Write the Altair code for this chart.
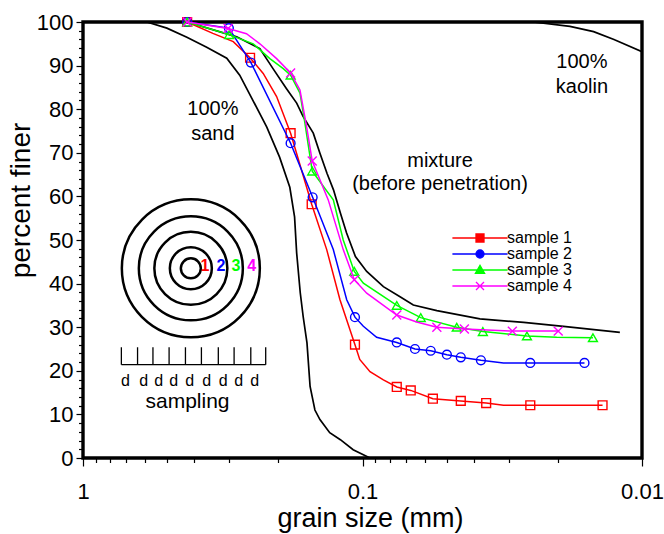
import altair as alt
import pandas as pd

FONT = "Liberation Sans"

# ---------------- reference curves (black) ----------------
sand_size = [0.591, 0.501, 0.425, 0.361, 0.306, 0.275, 0.247, 0.220, 0.198, 0.182, 0.175,
             0.172, 0.167, 0.163, 0.158, 0.154, 0.148, 0.142, 0.131, 0.120, 0.108, 0.094]
sand_pct = [100, 98.6, 96.5, 94.2, 91.7, 87.8, 82.1, 75.9, 69.0, 62.1, 55.3,
            47.0, 37.9, 32.4, 26.4, 16.4, 11.0, 8.8, 5.8, 4.2, 1.9, 0]

mix_size = [0.424, 0.282, 0.233, 0.209, 0.187, 0.172, 0.163, 0.150, 0.142, 0.134, 0.127, 0.120,
            0.114, 0.106, 0.0966, 0.0842, 0.0734, 0.0658, 0.0542, 0.0380, 0.0265, 0.0191, 0.0120]
mix_pct = [100, 96.6, 93.9, 89.3, 84.7, 81.4, 78.3, 74.5, 69.9, 65.3, 61.5, 56.2,
           51.6, 46.2, 42.8, 39.3, 37.0, 35.1, 33.8, 31.9, 31.1, 30.2, 28.8]

kaolin_size = [0.0245, 0.0181, 0.0149, 0.0126, 0.0100]
kaolin_pct = [100, 99.0, 97.8, 96.0, 93.2]

# ---------------- samples ----------------
series_names = ["sample 1", "sample 2", "sample 3", "sample 4"]
series_colors = ["#ff0000", "#0000ff", "#00ff00", "#ff00ff"]

s1_size = [0.424, 0.343, 0.290, 0.2525, 0.2266, 0.2029, 0.1808, 0.152, 0.1343, 0.1204, 0.1064,
           0.1023, 0.0940, 0.0842, 0.0754, 0.0672, 0.0560, 0.0445, 0.0361, 0.0313, 0.0251, 0.01384]
s1_pct = [100, 97.4, 95.5, 91.8, 88.2, 82.9, 74.5, 58.2, 47.8, 36.3, 26.0,
          22.6, 19.8, 17.9, 16.3, 15.5, 13.6, 13.1, 12.6, 12.1, 12.1, 12.1]
s1_mark = [1, 0, 0, 1, 0, 0, 1, 1, 0, 0, 1, 0, 0, 0, 1, 1, 1, 1, 1, 0, 1, 1]

s2_size = [0.424, 0.3007, 0.2507, 0.1808, 0.1508, 0.1272, 0.1139, 0.1064, 0.0993, 0.0890,
           0.0754, 0.0649, 0.0570, 0.0499, 0.0445, 0.0377, 0.0313, 0.0251, 0.01606]
s2_pct = [100, 98.6, 90.7, 72.2, 59.8, 47.8, 36.3, 32.3, 30.2, 27.7,
          26.5, 25.0, 24.6, 23.7, 23.1, 22.4, 21.8, 21.8, 21.8]
s2_mark = [1, 1, 1, 1, 1, 0, 0, 1, 0, 0, 1, 1, 1, 1, 1, 1, 0, 1, 1]

s3_size = [0.424, 0.2999, 0.2461, 0.2145, 0.1921, 0.1808, 0.1674, 0.1607, 0.1513, 0.1272,
           0.1172, 0.1070, 0.0993, 0.0754, 0.0619, 0.0460, 0.0371, 0.0258, 0.0202, 0.01498]
s3_pct = [100, 97.1, 95.0, 91.6, 89.3, 87.8, 83.7, 76.8, 65.8, 59.2,
          50.0, 42.8, 40.1, 35.0, 32.2, 30.0, 29.0, 28.0, 27.7, 27.6]
s3_mark = [1, 1, 0, 0, 0, 1, 0, 0, 1, 0, 0, 1, 0, 1, 1, 1, 1, 1, 0, 1]

s4_size = [0.424, 0.3025, 0.2601, 0.2329, 0.2029, 0.1808, 0.1674, 0.1585, 0.1513, 0.1326,
           0.1172, 0.1070, 0.0966, 0.0754, 0.0640, 0.0542, 0.0432, 0.0291, 0.01994]
s4_pct = [100, 98.5, 97.3, 95.0, 91.6, 88.3, 84.4, 76.0, 68.1, 59.2,
          47.8, 40.9, 37.8, 32.8, 31.2, 30.0, 29.6, 29.1, 29.1]
s4_mark = [1, 1, 0, 0, 0, 1, 0, 0, 1, 0, 0, 1, 0, 1, 0, 1, 1, 1, 1]

# ---------------- annotations ----------------
note_text = ["100%", "sand", "mixture", "(before penetration)", "100%", "kaolin"]
note_size = [0.343, 0.343, 0.0528, 0.0528, 0.0164, 0.0164]
note_pct = [78.6, 73.0, 66.8, 61.5, 89.5, 83.7]

# inset: concentric sampling rings and sampling ruler
ring_center_size = [0.4113]
ring_center_pct = [43.5]
ring_label = ["1", "2", "3", "4"]
ring_label_size = [0.3665, 0.3212, 0.2838, 0.2493]
ring_label_pct = [42.8, 42.8, 42.8, 42.8]

ruler_tick_size = [0.729, 0.638, 0.562, 0.492, 0.430, 0.377, 0.328, 0.288, 0.251, 0.222]
ruler_base_pct = 21.4
ruler_top_pct = 25.4
ruler_d_size = [0.705, 0.606, 0.536, 0.474, 0.415, 0.361, 0.315, 0.277, 0.243]
ruler_d_pct = 16.4
sampling_size = [0.4228]
sampling_pct = [11.5]

# plot frame: corners of the axis box, walked round
frame_size = [1.0, 0.01, 0.01, 1.0, 1.0]
frame_pct = [0.0, 0.0, 100.0, 100.0, 0.0]

# ---------------- styling ----------------
W, H = 559, 436
RING_RADII_PX = [10, 21, 36.5, 52, 69]
MARK_SHAPES = ["square", "circle", "triangle-up", "M-1,-1L1,1M-1,1L1,-1"]
MARK_SIZES = [78, 78, 80, 80]
LEGEND_PATHS = [
    "M-6.9,0H6.9M-1,-1H1V1H-1Z",
    "M-6.9,0H6.9M1,0A1,1,0,1,1,-1,0A1,1,0,1,1,1,0",
    "M-6.9,0H6.9M0,-1.15L1.15,0.85H-1.15Z",
    "M-6.9,0H6.9M-1,-1L1,1M-1,1L1,-1",
]

# ---------------- tables ----------------
curves = []
for name, xs, ys in [("sand", sand_size, sand_pct), ("mixture", mix_size, mix_pct),
                     ("kaolin", kaolin_size, kaolin_pct)]:
    for i, (a, b) in enumerate(zip(xs, ys)):
        curves.append({"curve": name, "size": a, "pct": b, "idx": i})
curves_df = pd.DataFrame(curves)

rows = []
for name, xs, ys, ms in [("sample 1", s1_size, s1_pct, s1_mark), ("sample 2", s2_size, s2_pct, s2_mark),
                         ("sample 3", s3_size, s3_pct, s3_mark), ("sample 4", s4_size, s4_pct, s4_mark)]:
    for i, (a, b, m) in enumerate(zip(xs, ys, ms)):
        rows.append({"series": name, "size": a, "pct": b, "marked": m, "idx": i})
samples_df = pd.DataFrame(rows)

notes_df = pd.DataFrame({"text": note_text, "size": note_size, "pct": note_pct})
rings_df = pd.DataFrame({"size": ring_center_size, "pct": ring_center_pct})
ring_lab_df = pd.DataFrame({"text": ring_label, "size": ring_label_size, "pct": ring_label_pct,
                            "series": series_names})
ruler_base_df = pd.DataFrame({"size": [ruler_tick_size[0]], "size2": [ruler_tick_size[-1]],
                              "pct": [ruler_base_pct]})
ruler_ticks_df = pd.DataFrame({"size": ruler_tick_size, "pct": [ruler_base_pct] * len(ruler_tick_size),
                               "pct2": [ruler_top_pct] * len(ruler_tick_size)})
ruler_d_df = pd.DataFrame({"text": ["d"] * len(ruler_d_size), "size": ruler_d_size,
                           "pct": [ruler_d_pct] * len(ruler_d_size)})
sampling_df = pd.DataFrame({"text": ["sampling"], "size": sampling_size, "pct": sampling_pct})
frame_df = pd.DataFrame({"size": frame_size, "pct": frame_pct, "idx": list(range(len(frame_size)))})

# ---------------- scales / axes ----------------
xscale = alt.Scale(type="log", domain=[0.01, 1], reverse=True, nice=False)
yscale = alt.Scale(domain=[0, 100], nice=False)

x_ticks = [1, 0.9, 0.8, 0.7, 0.6, 0.5, 0.4, 0.3, 0.2,
           0.1, 0.09, 0.08, 0.07, 0.06, 0.05, 0.04, 0.03, 0.02, 0.01]
xaxis = alt.Axis(
    values=x_ticks,
    labelExpr="datum.value == 1 ? '1' : datum.value == 0.1 ? '0.1' : datum.value == 0.01 ? '0.01' : ''",
    tickSize={"condition": {"test": "datum.value == 1 || datum.value == 0.1 || datum.value == 0.01",
                            "value": 8}, "value": 4.5},
    tickColor="black", tickWidth=1.2, grid=False, domain=False,
    labelFont=FONT, labelFontSize=22, labelColor="black", labelPadding=15,
    labelFlush=False, labelOverlap=False, labelBound=False,
    title="grain size (mm)", titleFont=FONT, titleFontSize=27, titleFontWeight="normal",
    titleColor="black", titleX=287, titleY=68, titleBaseline="alphabetic", titleAlign="center",
)
yaxis = alt.Axis(
    values=list(range(0, 101, 2)),
    labelExpr="datum.value % 10 == 0 ? datum.label : ''",
    tickSize={"condition": {"test": "datum.value % 10 == 0", "value": 7}, "value": 4.5},
    tickColor="black", tickWidth=1.2, grid=False, domain=False,
    labelFont=FONT, labelFontSize=22, labelColor="black", labelPadding=3,
    labelFlush=False, labelOverlap=False,
    title="percent finer", titleFont=FONT, titleFontSize=28, titleFontWeight="normal",
    titleColor="black", titleX=-54, titleY=178, titleBaseline="alphabetic", titleAlign="center",
    titleAngle=270,
)


def X(field="size"):
    return alt.X(f"{field}:Q", scale=xscale, axis=xaxis)


def Y(field="pct"):
    return alt.Y(f"{field}:Q", scale=yscale, axis=yaxis)


color_scale = alt.Scale(domain=series_names, range=series_colors)

layers = []

# thick plot frame (closed polyline round the axis box)
layers.append(
    alt.Chart(frame_df).mark_line(color="#000000", strokeWidth=3.4, strokeJoin="miter",
                                  strokeCap="square").encode(x=X(), y=Y(), order="idx:Q")
)

# black reference curves
layers.append(
    alt.Chart(curves_df).mark_line(color="black", strokeWidth=1.7, clip=True).encode(
        x=X(), y=Y(), detail="curve:N", order="idx:Q")
)

# sample lines and markers
for name, col, shp, sz in zip(series_names, series_colors, MARK_SHAPES, MARK_SIZES):
    base = alt.Chart(samples_df).transform_filter(alt.datum.series == name)
    layers.append(base.mark_line(color=col, strokeWidth=1.5).encode(x=X(), y=Y(), order="idx:Q"))
    layers.append(
        base.transform_filter(alt.datum.marked == 1)
        .mark_point(shape=shp, size=sz, filled=False, color=col, strokeWidth=1.4, opacity=1)
        .encode(x=X(), y=Y())
    )

# legend only layer (no marks drawn)
leg = alt.Legend(
    title=None, orient="none", legendX=389, legendY=208, padding=0, rowPadding=-1,
    symbolSize=64, symbolStrokeWidth=1.3, symbolFillColor="transparent",
    labelFont=FONT, labelFontSize=16, labelColor="black", labelOffset=19,
)
layers.append(
    alt.Chart(samples_df).transform_filter("false")
    .mark_point(filled=False, strokeWidth=1.3, opacity=1)
    .encode(
        x=X(), y=Y(),
        color=alt.Color("series:N", scale=color_scale, legend=leg),
        shape=alt.Shape("series:N", scale=alt.Scale(domain=series_names, range=LEGEND_PATHS), legend=leg),
    )
)

# text annotations
layers.append(
    alt.Chart(notes_df).mark_text(font=FONT, fontSize=20, color="black", baseline="alphabetic",
                                  align="center").encode(x=X(), y=Y(), text="text:N")
)

# concentric rings
for r in RING_RADII_PX:
    layers.append(
        alt.Chart(rings_df).mark_point(shape="circle", size=(2 * r) ** 2, filled=False, color="black",
                                       strokeWidth=2.5, opacity=1).encode(x=X(), y=Y())
    )

layers.append(
    alt.Chart(ring_lab_df).mark_text(font=FONT, fontSize=16, fontWeight="bold", baseline="alphabetic",
                                     align="center").encode(
        x=X(), y=Y(), text="text:N", color=alt.Color("series:N", scale=color_scale, legend=None))
)

# sampling ruler
layers.append(
    alt.Chart(ruler_base_df).mark_rule(color="black", strokeWidth=1.3).encode(
        x=X(), x2="size2:Q", y=Y())
)
layers.append(
    alt.Chart(ruler_ticks_df).mark_rule(color="black", strokeWidth=1.3).encode(
        x=X(), y=Y(), y2="pct2:Q")
)
layers.append(
    alt.Chart(ruler_d_df).mark_text(font=FONT, fontSize=16, color="black", baseline="alphabetic",
                                    align="center").encode(x=X(), y=Y(), text="text:N")
)
layers.append(
    alt.Chart(sampling_df).mark_text(font=FONT, fontSize=21, color="black", baseline="alphabetic",
                                     align="center").encode(x=X(), y=Y(), text="text:N")
)

chart = (
    alt.layer(*layers)
    .properties(width=W, height=H, autosize=alt.AutoSizeParams(type="none"),
                padding={"left": 83, "top": 22, "right": 22, "bottom": 76},
                background="white")
    .configure_view(strokeWidth=0)
    .configure(font=FONT)
)

chart.save("out.html", embed_options={"renderer": "svg", "actions": False})
